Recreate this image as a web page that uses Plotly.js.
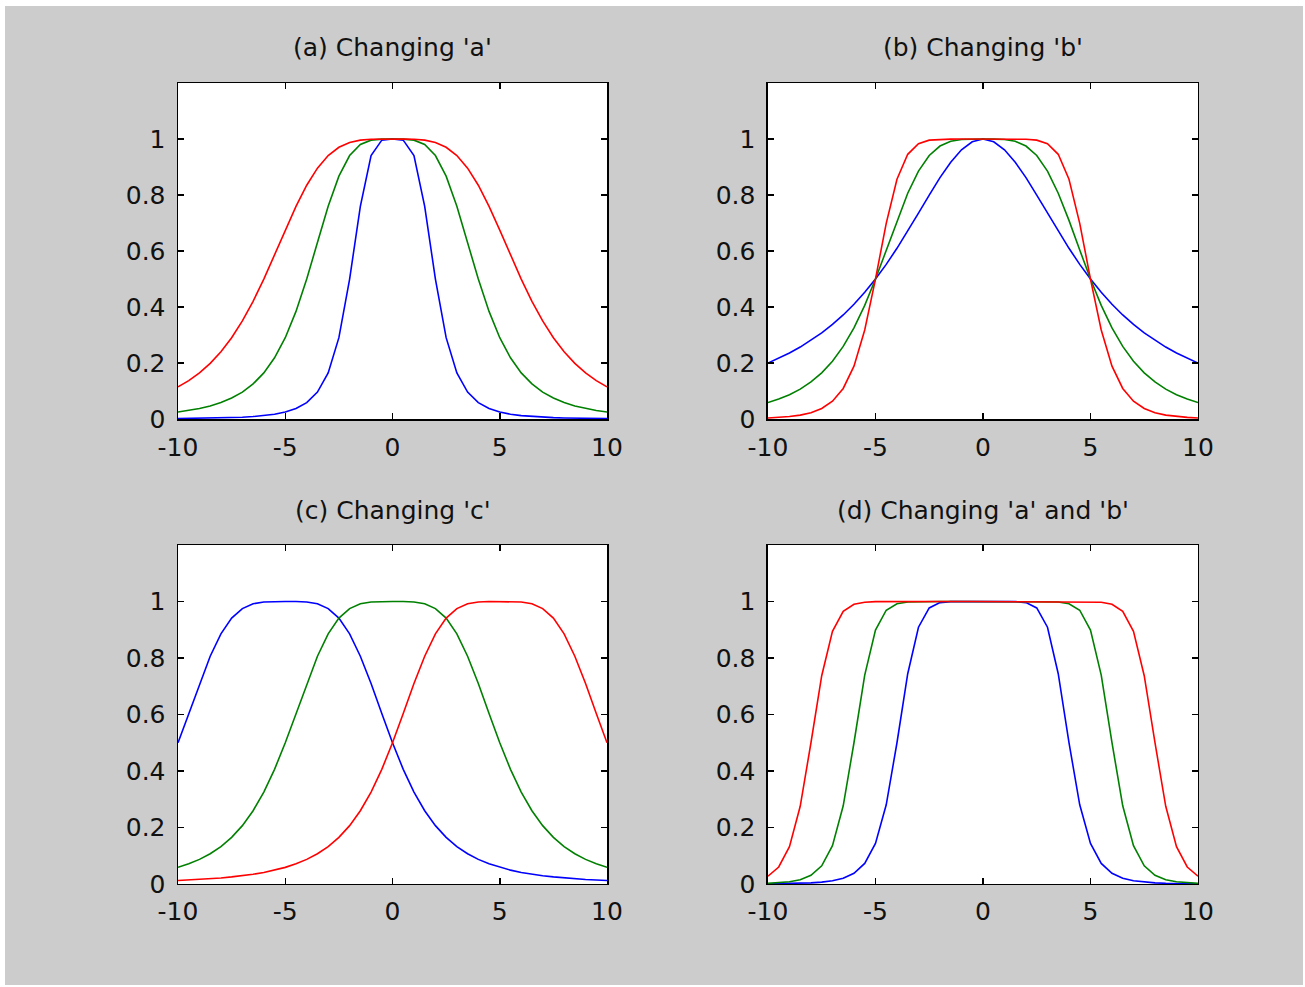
<!DOCTYPE html>
<html>
<head>
<meta charset="utf-8">
<script src="https://cdn.plot.ly/plotly-3.0.1.min.js"></script>
<style>
html,body{margin:0;padding:0;background:#ffffff;}
#chart{position:absolute;left:5px;top:6px;width:1298px;height:979px;}
</style>
</head>
<body>
<div id="chart"></div>
<script>
// x samples
const xVals = [-10,-9.5,-9,-8.5,-8,-7.5,-7,-6.5,-6,-5.5,-5,-4.5,-4,-3.5,-3,-2.5,-2,-1.5,-1,-0.5,0,0.5,1,1.5,2,2.5,3,3.5,4,4.5,5,5.5,6,6.5,7,7.5,8,8.5,9,9.5,10];

// (a) Changing 'a'
const aBlue = [0.0016,0.0020,0.0024,0.0031,0.0039,0.0050,0.0066,0.0089,0.0122,0.0172,0.0250,0.0376,0.0588,0.0963,0.1649,0.2906,0.5000,0.7596,0.9412,0.9961,1,0.9961,0.9412,0.7596,0.5000,0.2906,0.1649,0.0963,0.0588,0.0376,0.0250,0.0172,0.0122,0.0089,0.0066,0.0050,0.0039,0.0031,0.0024,0.0020,0.0016];
const aGreen = [0.0250,0.0305,0.0376,0.0468,0.0588,0.0749,0.0963,0.1254,0.1649,0.2186,0.2906,0.3844,0.5000,0.6305,0.7596,0.8676,0.9412,0.9806,0.9961,0.9998,1,0.9998,0.9961,0.9806,0.9412,0.8676,0.7596,0.6305,0.5000,0.3844,0.2906,0.2186,0.1649,0.1254,0.0963,0.0749,0.0588,0.0468,0.0376,0.0305,0.0250];
const aRed = [0.1147,0.1373,0.1649,0.1989,0.2404,0.2906,0.3506,0.4206,0.5000,0.5861,0.6747,0.7596,0.8351,0.8962,0.9412,0.9707,0.9878,0.9961,0.9992,1.0000,1,1.0000,0.9992,0.9961,0.9878,0.9707,0.9412,0.8962,0.8351,0.7596,0.6747,0.5861,0.5000,0.4206,0.3506,0.2906,0.2404,0.1989,0.1649,0.1373,0.1147];

// (b) Changing 'b'
const bBlue = [0.2000,0.2169,0.2358,0.2571,0.2809,0.3077,0.3378,0.3717,0.4098,0.4525,0.5000,0.5525,0.6098,0.6711,0.7353,0.8000,0.8621,0.9174,0.9615,0.9901,1,0.9901,0.9615,0.9174,0.8621,0.8000,0.7353,0.6711,0.6098,0.5525,0.5000,0.4525,0.4098,0.3717,0.3378,0.3077,0.2809,0.2571,0.2358,0.2169,0.2000];
const bGreen = [0.0588,0.0713,0.0870,0.1069,0.1324,0.1649,0.2065,0.2593,0.3254,0.4058,0.5000,0.6038,0.7095,0.8064,0.8853,0.9412,0.9750,0.9920,0.9984,0.9999,1,0.9999,0.9984,0.9920,0.9750,0.9412,0.8853,0.8064,0.7095,0.6038,0.5000,0.4058,0.3254,0.2593,0.2065,0.1649,0.1324,0.1069,0.0870,0.0713,0.0588];
const bRed = [0.0039,0.0059,0.0090,0.0141,0.0228,0.0376,0.0635,0.1092,0.1887,0.3181,0.5000,0.6991,0.8563,0.9455,0.9835,0.9961,0.9993,0.9999,1.0000,1.0000,1,1.0000,1.0000,0.9999,0.9993,0.9961,0.9835,0.9455,0.8563,0.6991,0.5000,0.3181,0.1887,0.1092,0.0635,0.0376,0.0228,0.0141,0.0090,0.0059,0.0039];

// (c) Changing 'c'
const cBlue = [0.5000,0.6038,0.7095,0.8064,0.8853,0.9412,0.9750,0.9920,0.9984,0.9999,1,0.9999,0.9984,0.9920,0.9750,0.9412,0.8853,0.8064,0.7095,0.6038,0.5000,0.4058,0.3254,0.2593,0.2065,0.1649,0.1324,0.1069,0.0870,0.0713,0.0588,0.0489,0.0409,0.0345,0.0293,0.0250,0.0214,0.0185,0.0160,0.0139,0.0122];
const cGreen = [0.0588,0.0713,0.0870,0.1069,0.1324,0.1649,0.2065,0.2593,0.3254,0.4058,0.5000,0.6038,0.7095,0.8064,0.8853,0.9412,0.9750,0.9920,0.9984,0.9999,1,0.9999,0.9984,0.9920,0.9750,0.9412,0.8853,0.8064,0.7095,0.6038,0.5000,0.4058,0.3254,0.2593,0.2065,0.1649,0.1324,0.1069,0.0870,0.0713,0.0588];
const cRed = [0.0122,0.0139,0.0160,0.0185,0.0214,0.0250,0.0293,0.0345,0.0409,0.0489,0.0588,0.0713,0.0870,0.1069,0.1324,0.1649,0.2065,0.2593,0.3254,0.4058,0.5000,0.6038,0.7095,0.8064,0.8853,0.9412,0.9750,0.9920,0.9984,0.9999,1,0.9999,0.9984,0.9920,0.9750,0.9412,0.8853,0.8064,0.7095,0.6038,0.5000];

// (d) Changing 'a' and 'b'
const dBlue = [0.0007,0.0010,0.0015,0.0024,0.0039,0.0065,0.0112,0.0202,0.0376,0.0726,0.1437,0.2804,0.5000,0.7443,0.9090,0.9773,0.9961,0.9996,1.0000,1.0000,1,1.0000,1.0000,0.9996,0.9961,0.9773,0.9090,0.7443,0.5000,0.2804,0.1437,0.0726,0.0376,0.0202,0.0112,0.0065,0.0039,0.0024,0.0015,0.0010,0.0007];
const dGreen = [0.0022,0.0040,0.0077,0.0151,0.0307,0.0643,0.1359,0.2768,0.5000,0.7396,0.8991,0.9693,0.9923,0.9984,0.9998,1.0000,1.0000,1.0000,1.0000,1.0000,1,1.0000,1.0000,1.0000,1.0000,1.0000,0.9998,0.9984,0.9923,0.9693,0.8991,0.7396,0.5000,0.2768,0.1359,0.0643,0.0307,0.0151,0.0077,0.0040,0.0022];
const dRed = [0.0274,0.0601,0.1319,0.2749,0.5000,0.7374,0.8944,0.9652,0.9901,0.9975,0.9995,0.9999,1.0000,1.0000,1.0000,1.0000,1.0000,1.0000,1.0000,1.0000,1,1.0000,1.0000,1.0000,1.0000,1.0000,1.0000,1.0000,1.0000,0.9999,0.9995,0.9975,0.9901,0.9652,0.8944,0.7374,0.5000,0.2749,0.1319,0.0601,0.0274];

const panelTitles = ["(a) Changing 'a'", "(b) Changing 'b'", "(c) Changing 'c'", "(d) Changing 'a' and 'b'"];
const xTickVals = [-10,-5,0,5,10];
const xTickText = ['-10','-5','0','5','10'];
const yTickVals = [0,0.2,0.4,0.6,0.8,1];
const yTickText = ['0','0.2','0.4','0.6','0.8','1'];

const colors = {blue:'#0000ff', green:'#008000', red:'#ff0000'};
const panels = [
  {blue:aBlue, green:aGreen, red:aRed},
  {blue:bBlue, green:bGreen, red:bRed},
  {blue:cBlue, green:cGreen, red:cRed},
  {blue:dBlue, green:dGreen, red:dRed}
];

const traces = [];
panels.forEach((p, i) => {
  const sfx = i === 0 ? '' : String(i + 1);
  ['blue','green','red'].forEach(c => {
    traces.push({
      x: xVals, y: p[c], type:'scatter', mode:'lines',
      line:{color:colors[c], width:1.6},
      xaxis:'x' + sfx, yaxis:'y' + sfx, showlegend:false, hoverinfo:'skip'
    });
  });
});

const fontFam = 'DejaVu Sans, sans-serif';
function xAx(domain, anchor){
  return {domain:domain, anchor:anchor, range:[-10,10], tickmode:'array', tickvals:xTickVals, ticktext:xTickText,
    ticks:'inside', ticklen:6, tickwidth:1.5, tickcolor:'#000', showline:true, linecolor:'#000', linewidth:1.5,
    mirror:'ticks', showgrid:false, zeroline:false, ticklabelstandoff:5,
    tickfont:{family:fontFam, size:25, color:'#111'}, fixedrange:true};
}
function yAx(domain, anchor){
  return {domain:domain, anchor:anchor, range:[0,1.2], tickmode:'array', tickvals:yTickVals, ticktext:yTickText,
    ticks:'inside', ticklen:6, tickwidth:1.5, tickcolor:'#000', showline:true, linecolor:'#000', linewidth:1.5,
    mirror:'ticks', showgrid:false, zeroline:false, ticklabelstandoff:6,
    tickfont:{family:fontFam, size:25, color:'#111'}, fixedrange:true};
}

const xL = [0.1333, 0.4638], xR = [0.5878, 0.9191];
const yT = [0.5781, 0.9213], yB = [0.1032, 0.4494];

const titleY = [0.9581, 0.9581, 0.4842, 0.4842];
const titleX = [(xL[0]+xL[1])/2, (xR[0]+xR[1])/2, (xL[0]+xL[1])/2, (xR[0]+xR[1])/2];

const layout = {
  width:1298, height:979,
  margin:{l:0, r:0, t:0, b:0},
  paper_bgcolor:'#cccccc', plot_bgcolor:'#ffffff',
  showlegend:false,
  xaxis: xAx(xL, 'y'), yaxis: yAx(yT, 'x'),
  xaxis2: xAx(xR, 'y2'), yaxis2: yAx(yT, 'x2'),
  xaxis3: xAx(xL, 'y3'), yaxis3: yAx(yB, 'x3'),
  xaxis4: xAx(xR, 'y4'), yaxis4: yAx(yB, 'x4'),
  annotations: panelTitles.map((t, i) => ({
    text:t, xref:'paper', yref:'paper', x:titleX[i], y:titleY[i], xanchor:'center', yanchor:'middle',
    showarrow:false, font:{family:fontFam, size:25, color:'#111'}
  }))
};

Plotly.newPlot('chart', traces, layout, {staticPlot:true, displayModeBar:false});
</script>
</body>
</html>
